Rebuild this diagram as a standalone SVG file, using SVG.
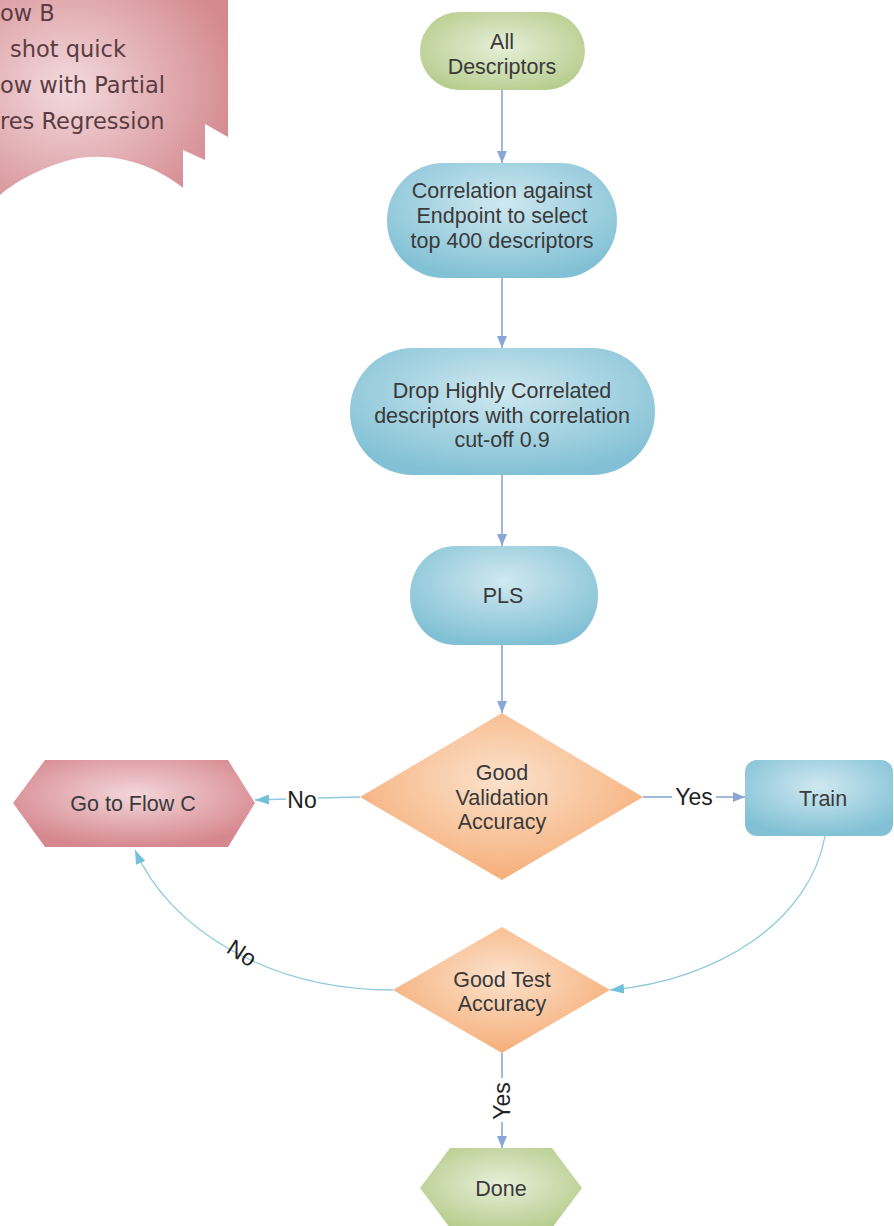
<svg xmlns="http://www.w3.org/2000/svg" width="894" height="1226" viewBox="0 0 894 1226">
<defs>
<radialGradient id="gGreen" cx="50%" cy="45%" r="60%"><stop offset="0" stop-color="#e6efd8"/><stop offset="1" stop-color="#b7cd8e"/></radialGradient>
<radialGradient id="gBlue" cx="50%" cy="35%" r="65%"><stop offset="0" stop-color="#cfe8f0"/><stop offset="1" stop-color="#82c1d5"/></radialGradient>
<radialGradient id="gOrange" cx="50%" cy="40%" r="60%"><stop offset="0" stop-color="#fbe2cc"/><stop offset="1" stop-color="#f6ae78"/></radialGradient>
<radialGradient id="gRed" cx="50%" cy="40%" r="60%"><stop offset="0" stop-color="#f3d6da"/><stop offset="1" stop-color="#d6888f"/></radialGradient>
<radialGradient id="gBanner" cx="30%" cy="45%" r="75%"><stop offset="0" stop-color="#f3dadd"/><stop offset="1" stop-color="#d48a90"/></radialGradient>
<marker id="ahMain" viewBox="0 0 12 10" refX="12" refY="5" markerWidth="12" markerHeight="10" markerUnits="userSpaceOnUse" orient="auto"><path d="M0,0 L12,5 L0,10 Z" fill="#8aa7d4"/></marker>
<marker id="ahLight" viewBox="0 0 14 10" refX="14" refY="5" markerWidth="14" markerHeight="10" markerUnits="userSpaceOnUse" orient="auto"><path d="M0,0 L14,5 L0,10 Z" fill="#72c0da"/></marker>
</defs>
<style>
.t{font-family:"Liberation Sans",Arial,sans-serif;font-size:21.5px;fill:#3a3a3a;text-anchor:middle}
.lbl{font-family:"Liberation Sans",Arial,sans-serif;font-size:23px;fill:#222;text-anchor:middle}
.ban{font-family:"DejaVu Sans",sans-serif;font-size:22.5px;fill:#5a3c42}
.cMain{fill:none;stroke:#8aa7d4;stroke-width:1.6}
.cLight{fill:none;stroke:#8cc9dc;stroke-width:1.3}
</style>
<rect width="894" height="1226" fill="#ffffff"/>

<g id="banner">
<path d="M0,0 H228 V137 L205,124 V160 L183,150 V188 C155,165 110,150 70,160 C40,168 15,182 0,195 Z" fill="url(#gBanner)"/>
<text class="ban" x="0" y="21">ow B</text>
<text class="ban" x="10" y="57">shot quick</text>
<text class="ban" x="0" y="93">ow with Partial</text>
<text class="ban" x="0" y="129">res Regression</text>
</g>

<g id="connectors">
<line class="cMain" x1="502" y1="90" x2="502" y2="163" marker-end="url(#ahMain)"/>
<line class="cMain" x1="502" y1="278" x2="502" y2="348" marker-end="url(#ahMain)"/>
<line class="cMain" x1="502" y1="475" x2="502" y2="546" marker-end="url(#ahMain)"/>
<line class="cMain" x1="502" y1="645" x2="502" y2="713" marker-end="url(#ahMain)"/>
<path class="cLight" d="M360,797 L318,798"/>
<path class="cLight" d="M286,799 L255,800" marker-end="url(#ahLight)"/>
<text class="lbl" x="302" y="808">No</text>
<path class="cMain" d="M643,797 L672,797"/>
<path class="cMain" d="M716,797 L745,797" marker-end="url(#ahMain)"/>
<text class="lbl" x="694" y="805">Yes</text>
<path class="cLight" d="M825,836 C810,920 720,980 610,990" marker-end="url(#ahLight)"/>
<path class="cLight" d="M393,990 C270,990 170,930 135,850" marker-end="url(#ahLight)"/>
<text class="lbl" x="242" y="961" transform="rotate(33 242 953)">No</text>
<path class="cMain" d="M502,1053 L502,1078"/>
<path class="cMain" d="M502,1122 L502,1148" marker-end="url(#ahMain)"/>
<text class="lbl" x="502" y="1109" transform="rotate(-90 502 1101)">Yes</text>
</g>

<g id="n-all">
<rect x="420" y="12" width="165" height="78" rx="39" fill="url(#gGreen)"/>
<text class="t" x="502" y="49">All</text>
<text class="t" x="502" y="74">Descriptors</text>
</g>

<g id="n-corr">
<rect x="387" y="163" width="230" height="115" rx="57" fill="url(#gBlue)"/>
<text class="t" x="502" y="198">Correlation against</text>
<text class="t" x="502" y="223">Endpoint to select</text>
<text class="t" x="502" y="248">top 400 descriptors</text>
</g>

<g id="n-drop">
<rect x="350" y="348" width="305" height="127" rx="63" fill="url(#gBlue)"/>
<text class="t" x="502" y="398">Drop Highly Correlated</text>
<text class="t" x="502" y="423">descriptors with correlation</text>
<text class="t" x="502" y="447">cut-off 0.9</text>
</g>

<g id="n-pls">
<rect x="410" y="546" width="188" height="99" rx="45" ry="49" fill="url(#gBlue)"/>
<text class="t" x="503" y="603">PLS</text>
</g>

<g id="n-val">
<polygon points="502,713 643,797 502,880 360,797" fill="url(#gOrange)"/>
<text class="t" x="502" y="780">Good</text>
<text class="t" x="502" y="805">Validation</text>
<text class="t" x="502" y="829">Accuracy</text>
</g>

<g id="n-flowc">
<polygon points="13,803 45,760 228,760 255,803 228,847 45,847" fill="url(#gRed)"/>
<text class="t" x="133" y="811">Go to Flow C</text>
</g>

<g id="n-train">
<rect x="745" y="760" width="148" height="76" rx="12" fill="url(#gBlue)"/>
<text class="t" x="823" y="806">Train</text>
</g>

<g id="n-test">
<polygon points="502,927 610,990 502,1053 393,990" fill="url(#gOrange)"/>
<text class="t" x="502" y="987">Good Test</text>
<text class="t" x="502" y="1011">Accuracy</text>
</g>

<g id="n-done">
<polygon points="420,1188 450,1148 552,1148 582,1188 552,1228 450,1228" fill="url(#gGreen)"/>
<text class="t" x="501" y="1196">Done</text>
</g>
</svg>
